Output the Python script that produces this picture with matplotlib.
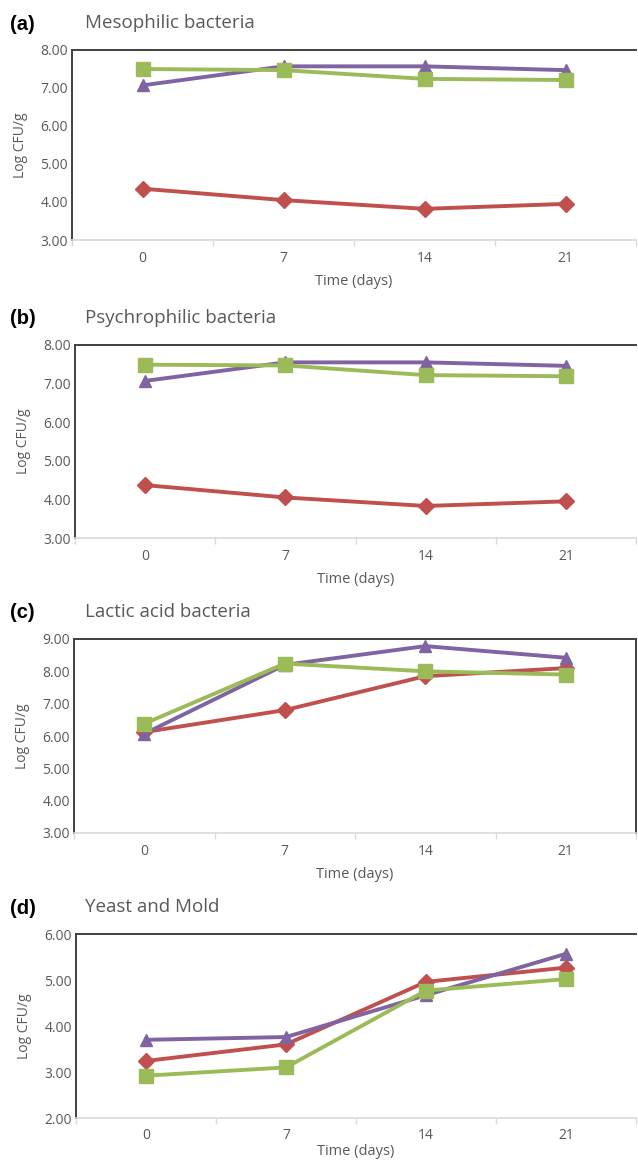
import matplotlib.pyplot as plt
import numpy as np

# data
days = ["0", "7", "14", "21"]
titles = ["Mesophilic bacteria", "Psychrophilic bacteria", "Lactic acid bacteria", "Yeast and Mold"]
letters = ["(a)", "(b)", "(c)", "(d)"]

purple_a = [7.07, 7.57, 7.57, 7.47]
green_a = [7.50, 7.47, 7.24, 7.21]
red_a = [4.35, 4.05, 3.82, 3.95]

purple_b = [7.07, 7.55, 7.55, 7.46]
green_b = [7.49, 7.47, 7.22, 7.19]
red_b = [4.37, 4.05, 3.83, 3.95]

purple_c = [6.07, 8.20, 8.78, 8.42]
green_c = [6.38, 8.24, 8.00, 7.90]
red_c = [6.12, 6.80, 7.85, 8.10]

purple_d = [3.70, 3.76, 4.67, 5.57]
green_d = [2.92, 3.10, 4.77, 5.02]
red_d = [3.24, 3.60, 4.96, 5.27]

ylims = [(3, 8), (3, 8), (3, 9), (2, 6)]

W, H = 638, 1162
fig = plt.figure(figsize=(W / 100, H / 100), dpi=100)

# axes boxes in pixels: left, top, bottom
boxes = [(72, 50, 240), (75, 345, 538), (74, 639, 833), (76, 934, 1118)]
x1 = 636

purple = "#8064A2"
green = "#9BBB59"
red = "#C0504D"
txt = "#595959"
font = "Open Sans"

series = [(purple_a, green_a, red_a), (purple_b, green_b, red_b),
          (purple_c, green_c, red_c), (purple_d, green_d, red_d)]

for i in range(4):
    x0, top, bot = boxes[i]
    ax = fig.add_axes([x0 / W, 1 - bot / H, (x1 - x0) / W, (bot - top) / H])
    p, g, r = series[i]
    x = np.arange(len(days))
    ax.plot(x, r, color=red, lw=2.8, marker="D", ms=8, zorder=3)
    ax.plot(x, p, color=purple, lw=2.8, marker="^", ms=9, zorder=4)
    ax.plot(x, g, color=green, lw=2.8, marker="s", ms=10, zorder=5)
    ax.set_xlim(-0.5, 3.5)
    lo, hi = ylims[i]
    ax.set_ylim(lo, hi)
    ax.set_yticks(np.arange(lo, hi + 0.1, 1))
    ax.set_yticklabels(["%.2f" % v for v in np.arange(lo, hi + 0.1, 1)],
                       family=font, fontsize=10, color=txt)
    ax.set_xticks(x)
    ax.set_xticklabels(days, family=font, fontsize=10, color=txt)
    ax.set_xticks([-0.5, 0.5, 1.5, 2.5, 3.5], minor=True)
    ax.tick_params(axis="x", which="major", length=0, pad=7 if i == 3 else 8)
    ax.tick_params(axis="x", which="minor", length=4, color="#d9d9d9", width=1)
    ax.tick_params(axis="y", length=0, pad=3)
    for s in ["left", "top", "right"]:
        ax.spines[s].set_color("#404040")
        ax.spines[s].set_linewidth(1.4)
    ax.spines["bottom"].set_color("#d9d9d9")
    ax.spines["bottom"].set_linewidth(1.2)
    ax.spines["right"].set_visible(i == 2)
    ax.set_xlabel("Time (days)", family=font, fontsize=10.5, color=txt,
                  labelpad=1 if i == 3 else 6)
    ax.set_ylabel("Log CFU/g", family=font, fontsize=10, color=txt, labelpad=9)
    fig.text(10 / W, 1 - (top - 26) / H, letters[i], family="Liberation Sans",
             fontweight="bold", fontsize=14.5, va="center", ha="left")
    fig.text(85 / W, 1 - (top - 27) / H, titles[i], family=font,
             fontsize=13.5, color=txt, va="center", ha="left")

plt.savefig("out.png", dpi=100)
